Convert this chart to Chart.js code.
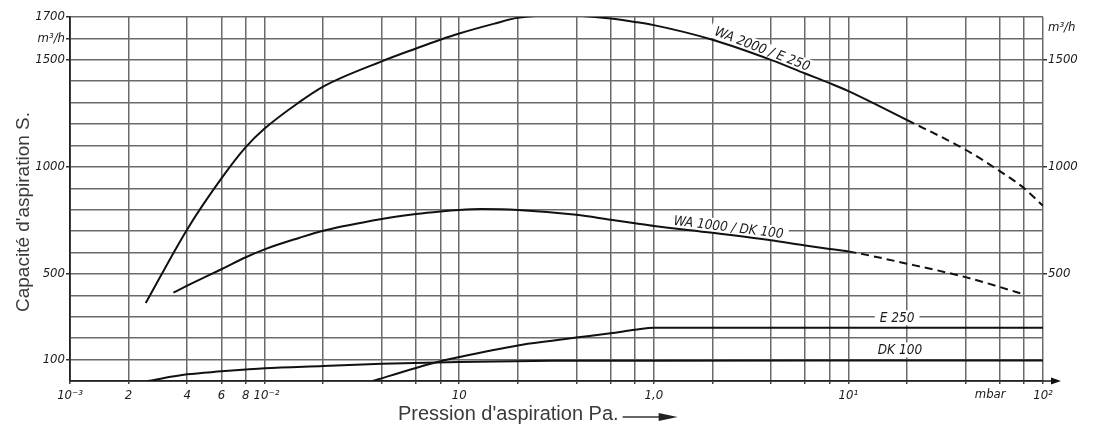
<!DOCTYPE html>
<html>
<head>
<meta charset="utf-8">
<script src="https://cdn.jsdelivr.net/npm/chart.js@4/dist/chart.umd.min.js"></script>
<style>
html,body{margin:0;padding:0;background:#fff;}
#wrap{width:1094px;height:426px;position:relative;background:#fff;}
canvas{display:block;}
</style>
</head>
<body>
<div id="wrap"><canvas id="c" width="1094" height="426"></canvas></div>
<script>
// ---- data (pressure in mbar, capacity in m³/h) ----
const wa2000P = [0.00245, 0.004, 0.006, 0.008, 0.01, 0.015, 0.02, 0.04, 0.06, 0.08, 0.1, 0.15, 0.2, 0.3, 0.4, 0.6, 0.8, 1, 2, 4, 6, 8, 10, 20, 40, 60, 80, 100];
const wa2000S = [364, 708, 946, 1092, 1179, 1301, 1375, 1493, 1553, 1594, 1623, 1668, 1696, 1707, 1706, 1693, 1677, 1662, 1594, 1500, 1436, 1391, 1354, 1219, 1080, 980, 900, 818];
const wa1000P = [0.0034, 0.004, 0.006, 0.008, 0.01, 0.015, 0.02, 0.04, 0.06, 0.08, 0.1, 0.13, 0.2, 0.4, 0.6, 0.8, 1, 2, 4, 6, 8, 10, 20, 40, 60, 80];
const wa1000S = [413, 445, 522, 578, 615, 668, 702, 757, 780, 792, 799, 803, 799, 776, 753, 737, 724, 692, 657, 633, 617, 605, 548, 485, 439, 404];
const e250P = [0.0359, 0.06, 0.08, 0.1, 0.2, 0.3, 0.4, 0.6, 0.8, 1, 2, 10, 100];
const e250S = [0, 61, 92, 112, 166, 188, 203, 223, 239, 249, 249, 249, 249];
const dk100P = [0.0025, 0.004, 0.006, 0.008, 0.01, 0.02, 0.04, 0.1, 0.3, 1, 10, 100];
const dk100S = [0, 31, 45, 54, 60, 70, 80, 89, 94, 95, 96, 96];
const dashedFrom = [20, 10, 1e9, 1e9];   // pressure above which the curve is dashed (extrapolated)

const xTickValues = [0.001,0.002,0.004,0.006,0.008, 0.01,0.02,0.04,0.06,0.08, 0.1,0.2,0.4,0.6,0.8, 1,2,4,6,8, 10,20,40,60,80, 100];
const xTickLabels = ['10\u207B\u00B3','2','4','6','8', '\u200810\u207B\u00B2','','','','', '10','','','','', '1,0','','','','', '10\u00B9','','','','', '10\u00B2'];
const yTickValues = [0,100,200,300,400,500,600,700,800,900,1000,1100,1200,1300,1400,1500,1600,1700];
const yLeftLabels = ['','100','','','','500','','','','','1000','','','','','1500','m\u00B3/h','1700'];
const yRightValues = [500, 1000, 1500, 1650];
const yRightLabels = ['500', '1000', '1500', 'm\u00B3/h'];

const curveLabels = ['WA 2000 / E 250', 'WA 1000 / DK 100', 'E 250', 'DK 100'];
const curveLabelP = [3.6, 2.42, 17.8, 18.4];
const curveLabelS = [1548, 715, 293, 143];
const curveLabelAngle = [21, 7, 0, 0];
const unitLabel = 'mbar';
const unitLabelP = 53.5;
const xTitle = "Pression d'aspiration Pa.";
const yTitle = "Capacit\u00E9 d'aspiration S.";

// ---- chart ----
const narrow = "'Liberation Sans Narrow', 'DejaVu Sans Condensed', sans-serif";
const sans = "'Liberation Sans', Arial, sans-serif";
const gridColor = '#6a6a6a';
const inkColor = '#1a1a1a';

function pts(P, S) { return P.map((p, i) => ({x: p, y: S[i]})); }
const series = [[wa2000P, wa2000S], [wa1000P, wa1000S], [e250P, e250S], [dk100P, dk100S]];
const datasets = series.map((s, k) => ({
  label: ['WA 2000 / E 250', 'WA 1000 / DK 100', 'E 250', 'DK 100'][k],
  data: pts(s[0], s[1]),
  borderColor: '#111',
  borderWidth: 2,
  pointRadius: 0,
  fill: false,
  cubicInterpolationMode: 'monotone',
  segment: {
    borderDash: ctx => (ctx.p0.parsed.x >= dashedFrom[k] - 1e-9 ? [8, 5] : undefined)
  }
}));

const annot = {
  id: 'annot',
  beforeDatasetsDraw(chart) {
    const {ctx, scales: {x, y}} = chart;
    ctx.save();
    ctx.font = 'italic 13.5px ' + narrow;
    curveLabels.forEach((t, i) => {
      const px = x.getPixelForValue(curveLabelP[i]);
      const py = y.getPixelForValue(curveLabelS[i]);
      ctx.save();
      ctx.translate(px, py);
      ctx.rotate(curveLabelAngle[i] * Math.PI / 180);
      const w = ctx.measureText(t).width;
      ctx.fillStyle = '#fff';
      ctx.fillRect(-w / 2 - 5, -8, w + 10, 15);
      ctx.fillStyle = inkColor;
      ctx.textAlign = 'center';
      ctx.textBaseline = 'middle';
      ctx.fillText(t, 0, 0);
      ctx.restore();
    });
    ctx.restore();
  },
  afterDraw(chart) {
    const {ctx, scales: {x, y}} = chart;
    ctx.save();
    // unit label on x axis
    ctx.font = 'italic 13px ' + narrow;
    ctx.fillStyle = inkColor;
    ctx.textAlign = 'center';
    ctx.textBaseline = 'middle';
    ctx.fillText(unitLabel, x.getPixelForValue(unitLabelP), x.top + 14);
    // arrow at end of x axis
    ctx.strokeStyle = '#222';
    ctx.lineWidth = 1.6;
    ctx.beginPath();
    ctx.moveTo(x.right, x.top);
    ctx.lineTo(x.right + 10, x.top);
    ctx.stroke();
    ctx.fillStyle = '#111';
    ctx.beginPath();
    ctx.moveTo(x.right + 8, x.top - 3.5);
    ctx.lineTo(x.right + 18, x.top);
    ctx.lineTo(x.right + 8, x.top + 3.5);
    ctx.closePath();
    ctx.fill();
    // y title
    ctx.font = '19px ' + sans;
    ctx.fillStyle = '#3a3a3a';
    ctx.save();
    ctx.translate(24, 212);
    ctx.rotate(-Math.PI / 2);
    ctx.textAlign = 'center';
    ctx.textBaseline = 'middle';
    ctx.fillText(yTitle, 0, 0);
    ctx.restore();
    // x title with arrow
    ctx.font = '20px ' + sans;
    ctx.textAlign = 'left';
    ctx.textBaseline = 'middle';
    const tx = 398, ty = 414;
    ctx.fillText(xTitle, tx, ty);
    const tw = ctx.measureText(xTitle).width;
    const ax = tx + tw + 4;
    ctx.strokeStyle = '#333';
    ctx.lineWidth = 1.3;
    ctx.beginPath();
    ctx.moveTo(ax, ty + 3);
    ctx.lineTo(ax + 40, ty + 3);
    ctx.stroke();
    ctx.fillStyle = '#222';
    ctx.beginPath();
    ctx.moveTo(ax + 36, ty - 1);
    ctx.lineTo(ax + 55, ty + 3);
    ctx.lineTo(ax + 36, ty + 7);
    ctx.closePath();
    ctx.fill();
    ctx.restore();
  }
};

const tickFont = {family: narrow, size: 13, style: 'italic'};

new Chart(document.getElementById('c'), {
  type: 'line',
  data: {datasets},
  plugins: [annot],
  options: {
    responsive: false,
    animation: false,
    devicePixelRatio: 1,
    layout: {padding: {top: 17, left: 0, right: 0, bottom: 0}},
    plugins: {legend: {display: false}, tooltip: {enabled: false}},
    scales: {
      x: {
        type: 'logarithmic',
        position: 'bottom',
        min: 0.001,
        max: 100,
        afterBuildTicks: s => { s.ticks = xTickValues.map(v => ({value: v})); },
        afterFit: s => { s.height = 45; s.paddingLeft = 0; s.paddingRight = 0; },
        ticks: {
          autoSkip: false, maxRotation: 0, minRotation: 0, padding: 4,
          color: inkColor,
          font: tickFont,
          callback: (v, i) => xTickLabels[i]
        },
        grid: {color: gridColor, lineWidth: 1.5, tickLength: 3, tickColor: '#444'},
        border: {display: true, color: '#222', width: 1.8}
      },
      y: {
        type: 'linear',
        position: 'left',
        min: 0,
        max: 1700,
        afterBuildTicks: s => { s.ticks = yTickValues.map(v => ({value: v})); },
        afterFit: s => { s.width = 70; s.paddingTop = 0; s.paddingBottom = 0; },
        ticks: {
          padding: 1,
          color: inkColor,
          font: tickFont,
          callback: (v, i) => yLeftLabels[i]
        },
        grid: {
          color: gridColor, lineWidth: 1.5, tickLength: 4,
          tickColor: ctx => (yLeftLabels[ctx.index] ? '#333' : 'rgba(0,0,0,0)')
        },
        border: {display: true, color: '#222', width: 1.8}
      },
      y2: {
        type: 'linear',
        position: 'right',
        min: 0,
        max: 1700,
        afterBuildTicks: s => { s.ticks = yRightValues.map(v => ({value: v})); },
        afterFit: s => { s.width = 51; s.paddingTop = 0; s.paddingBottom = 0; },
        ticks: {
          padding: 1,
          color: inkColor,
          font: tickFont,
          callback: (v, i) => yRightLabels[i]
        },
        grid: {
          drawOnChartArea: false, tickLength: 4, lineWidth: 1.5,
          tickColor: ctx => (yRightLabels[ctx.index] === 'm\u00B3/h' ? 'rgba(0,0,0,0)' : '#333')
        },
        border: {display: false}
      }
    }
  }
});
</script>
</body>
</html>
